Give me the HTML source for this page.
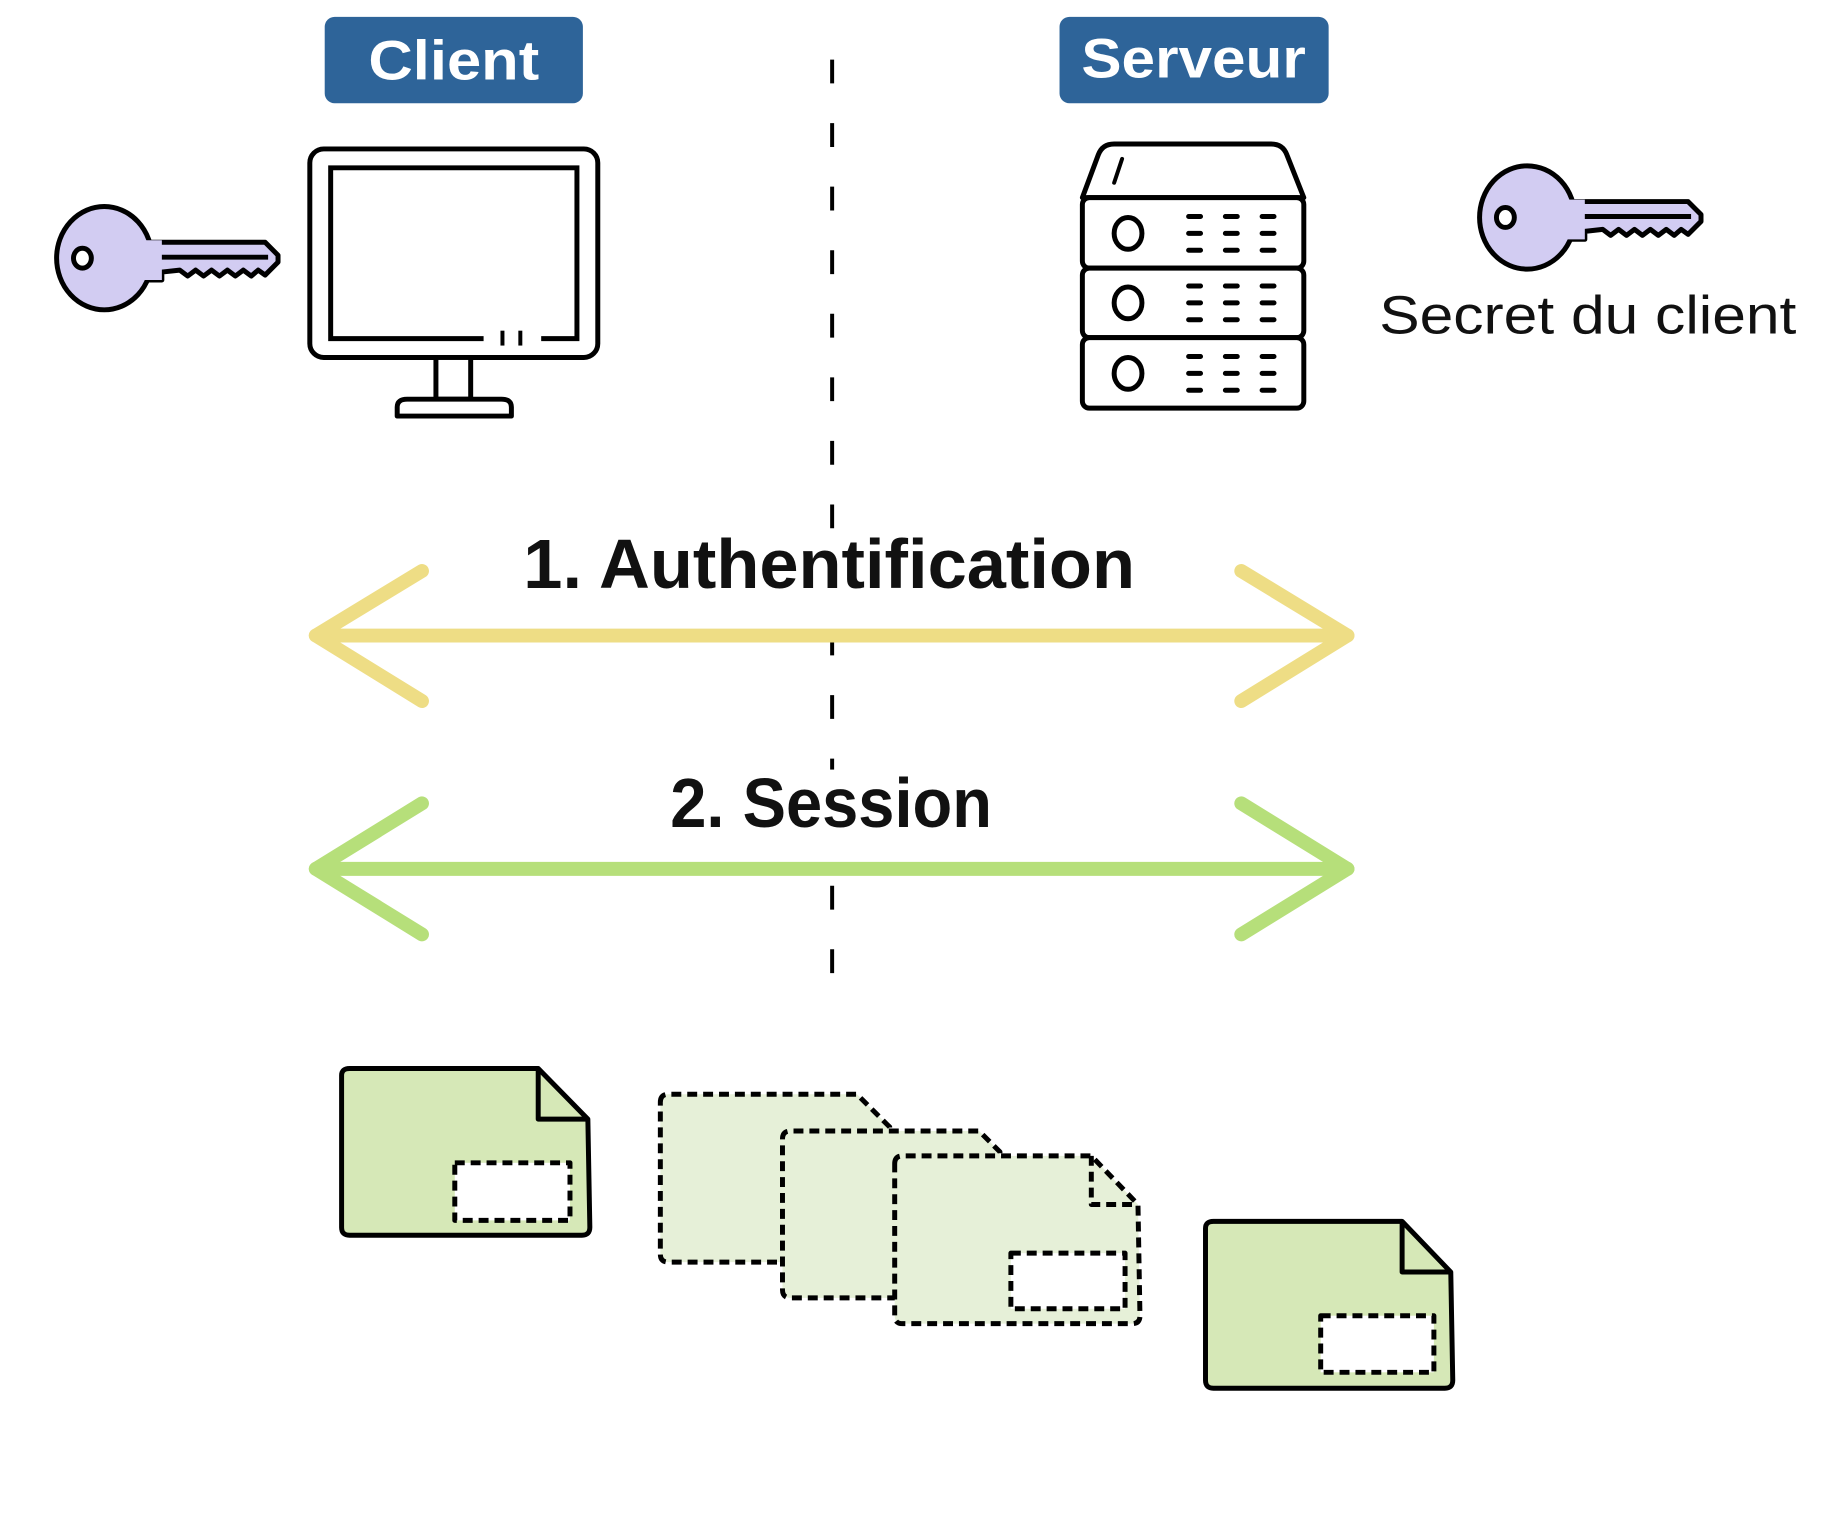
<!DOCTYPE html>
<html><head><meta charset="utf-8"><style>
html,body{margin:0;padding:0;background:#fff;}
svg{display:block;}
text{font-family:"Liberation Sans",sans-serif;}
</style></head><body>
<svg width="1824" height="1516" viewBox="0 0 1824 1516" xmlns="http://www.w3.org/2000/svg">
<defs>
<g id="key">
  <path d="M38,-16 L162,-16 L175,-3 L175,4 L162,17 L155,12 L148,18 L140,12 L132,18 L124,12 L116,18 L108,12 L100,18 L92,12 L84,18 L76,12 L58,14 L58,22 L38,22 Z" fill="#d2ccf2" stroke="#000" stroke-width="5" stroke-linejoin="round"/>
  <ellipse cx="0" cy="0" rx="48" ry="52" fill="#d2ccf2" stroke="#000" stroke-width="5"/>
  <path d="M40,-18 L58,-18 L58,22 L40,22" fill="#d2ccf2" stroke="none"/>
  <line x1="58" y1="-1" x2="165" y2="-1" stroke="#000" stroke-width="5"/>
  <ellipse cx="-22" cy="0" rx="9" ry="10" fill="#fff" stroke="#000" stroke-width="5"/>
</g>
</defs>
<g transform="scale(0.993)">
<!-- dashed center line -->
<line x1="838" y1="60" x2="838" y2="990" stroke="#000" stroke-width="4" stroke-dasharray="24,40"/>

<!-- headers -->
<rect x="327" y="17" width="260" height="87" rx="10" fill="#2e6499"/>
<text x="457" y="80" font-size="56" font-weight="bold" fill="#fff" text-anchor="middle" textLength="172" lengthAdjust="spacingAndGlyphs">Client</text>
<rect x="1067" y="17" width="271" height="87" rx="10" fill="#2e6499"/>
<text x="1202" y="78" font-size="56" font-weight="bold" fill="#fff" text-anchor="middle" textLength="226" lengthAdjust="spacingAndGlyphs">Serveur</text>

<!-- keys -->
<use href="#key" transform="translate(105,260)"/>
<use href="#key" transform="translate(1538,219)"/>
<text x="1389" y="336" font-size="54" fill="#111" textLength="420" lengthAdjust="spacingAndGlyphs">Secret du client</text>

<!-- monitor -->
<rect x="312" y="150" width="290" height="210" rx="14" fill="#fff" stroke="#000" stroke-width="5"/>
<path d="M487,341 L333,341 L333,169 L581,169 L581,341 L545,341" fill="none" stroke="#000" stroke-width="5"/>
<line x1="506" y1="333" x2="506" y2="348" stroke="#000" stroke-width="4"/>
<line x1="524" y1="333" x2="524" y2="348" stroke="#000" stroke-width="4"/>
<rect x="439" y="360" width="35" height="42" fill="#fff" stroke="#000" stroke-width="5"/>
<path d="M400,419 L400,410 Q400,402 410,402 L505,402 Q515,402 515,410 L515,419 Z" fill="#fff" stroke="#000" stroke-width="5" stroke-linejoin="round"/>

<!-- server -->
<path d="M1090,199 L1106,156 Q1110,145 1122,145 L1280,145 Q1292,145 1296,156 L1313,199 Z" fill="#fff" stroke="#000" stroke-width="5" stroke-linejoin="round"/>
<line x1="1130" y1="160" x2="1122" y2="184" stroke="#000" stroke-width="4" stroke-linecap="round"/>
<g fill="#fff" stroke="#000" stroke-width="5">
<rect x="1090" y="199" width="223" height="71" rx="7"/>
<rect x="1090" y="270" width="223" height="70" rx="7"/>
<rect x="1090" y="340" width="223" height="71" rx="7"/>
<ellipse cx="1136" cy="235" rx="14" ry="16"/>
<ellipse cx="1136" cy="305" rx="14" ry="16"/>
<ellipse cx="1136" cy="376" rx="14" ry="16"/>
</g>
<g stroke="#000" stroke-width="5" stroke-linecap="round">
<path d="M1197,218h12M1234,218h12M1271,218h12M1197,235h12M1234,235h12M1271,235h12M1197,252h12M1234,252h12M1271,252h12"/>
<path d="M1197,288h12M1234,288h12M1271,288h12M1197,305h12M1234,305h12M1271,305h12M1197,322h12M1234,322h12M1271,322h12"/>
<path d="M1197,359h12M1234,359h12M1271,359h12M1197,376h12M1234,376h12M1271,376h12M1197,393h12M1234,393h12M1271,393h12"/>
</g>

<!-- arrow 1 -->
<g stroke="#eedd85" stroke-width="14" stroke-linecap="round" stroke-linejoin="round" fill="none">
<line x1="318" y1="640" x2="1357" y2="640"/>
<polyline points="425,575 318,640 425,706"/>
<polyline points="1250,575 1357,640 1250,706"/>
</g>
<rect x="520" y="535" width="630" height="80" fill="#fff"/>
<text x="527" y="592" font-size="70" font-weight="bold" fill="#111" textLength="616" lengthAdjust="spacingAndGlyphs">1. Authentification</text>

<!-- arrow 2 -->
<g stroke="#b6df7a" stroke-width="14" stroke-linecap="round" stroke-linejoin="round" fill="none">
<line x1="318" y1="875" x2="1357" y2="875"/>
<polyline points="425,809 318,875 425,941"/>
<polyline points="1250,809 1357,875 1250,941"/>
</g>
<rect x="660" y="775" width="350" height="80" fill="#fff"/>
<text x="675" y="833" font-size="70" font-weight="bold" fill="#111" textLength="324" lengthAdjust="spacingAndGlyphs">2. Session</text>

<!-- documents -->
<g stroke="#000" stroke-width="5" stroke-linejoin="round">
<path d="M344,1083 Q344,1076 352,1076 L542,1076 L592,1127 L594,1236 Q594,1244 586,1244 L352,1244 Q344,1244 344,1236 Z" fill="#d6e8b7"/>
<path d="M542,1076 L542,1127 L592,1127" fill="none"/>
<rect x="458" y="1171" width="116" height="58" fill="#fff" stroke-dasharray="10,6"/>

<g stroke-dasharray="10,6">
<path d="M665,1110 Q665,1102 673,1102 L863,1102 L896,1135 L896,1263 Q896,1271 888,1271 L673,1271 Q665,1271 665,1263 Z" fill="#e6f0d8"/>
<path d="M788,1147 Q788,1139 796,1139 L986,1139 L1007,1160 L1007,1299 Q1007,1307 999,1307 L796,1307 Q788,1307 788,1299 Z" fill="#e6f0d8"/>
<path d="M901,1172 Q901,1164 909,1164 L1099,1164 L1146,1213 L1148,1325 Q1148,1333 1140,1333 L909,1333 Q901,1333 901,1325 Z" fill="#e6f0d8"/>
<path d="M1099,1164 L1099,1213 L1146,1213" fill="none"/>
<rect x="1018" y="1262" width="115" height="56" fill="#fff"/>
</g>

<path d="M1214,1237 Q1214,1230 1222,1230 L1412,1230 L1461,1281 L1463,1390 Q1463,1398 1455,1398 L1222,1398 Q1214,1398 1214,1390 Z" fill="#d6e8b7"/>
<path d="M1412,1230 L1412,1281 L1461,1281" fill="none"/>
<rect x="1330" y="1325" width="114" height="57" fill="#fff" stroke-dasharray="10,6"/>
</g>
</g>
</svg>
</body></html>
